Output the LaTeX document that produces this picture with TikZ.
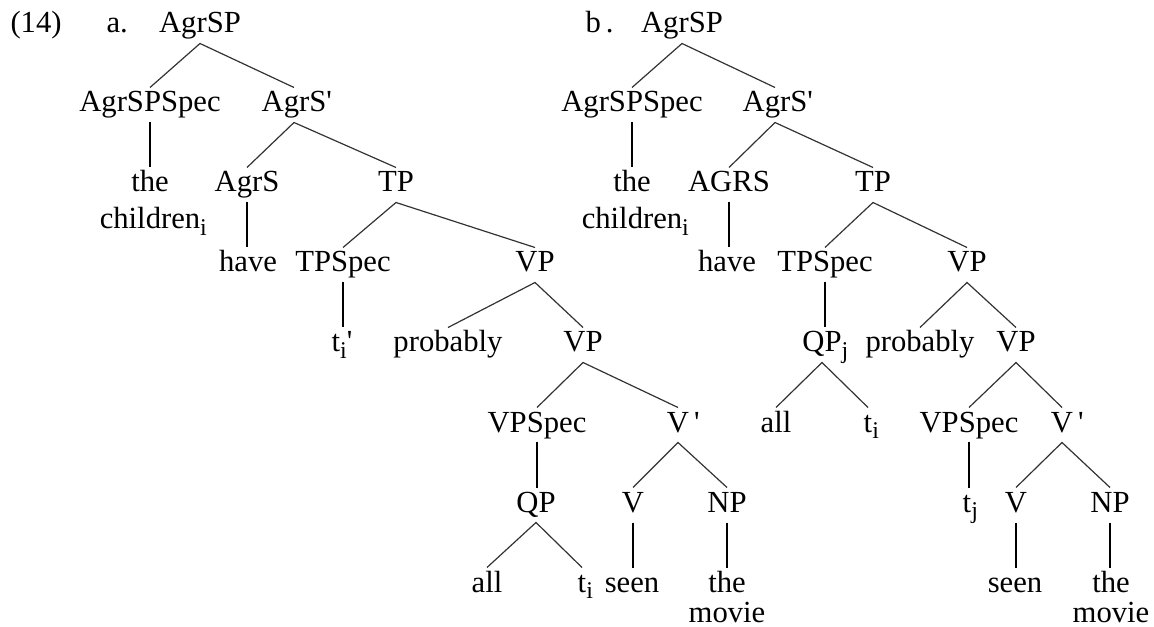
\documentclass[tikz,border=0pt]{standalone}
\usepackage{fontspec}
\setmainfont{Liberation Serif}

\newcommand\lowidx[1]{\raisebox{-0.22em}{\fontsize{18}{18}\selectfont #1}}

\tikzset{every picture/.style={line width=0.75pt}}
\tikzset{
  cat/.style={anchor=base, inner sep=3pt, text height=15pt, text depth=4.5pt},
  lbl/.style={anchor=base west, inner sep=0pt},
  branch/.style={line width=0.9pt, black!80},
  stem/.style={line width=1.3pt}
}

\begin{document}
\begin{tikzpicture}[x=0.75pt,y=0.75pt,yscale=-1,xscale=1,font=\fontsize{23}{28}\selectfont]
		\useasboundingbox (0,0) rectangle (1154,627);
		
		%Labels
		\node[lbl] (num) at (10,33) {(14)};
		\node[lbl] (tagA) at (106,33) {a.};
		\node[lbl] (tagB) at (585,33) {b\,.};
		
		%Tree a: nodes
		\node[cat] (aAgrSP) at (200,33) {AgrSP};
		\node[cat] (aSpec) at (150,112) {AgrSPSpec};
		\node[cat] (aAgrSbar) at (294,112) {AgrS\rlap{\textquotesingle}};
		\node[cat] (athe) at (150,192) {the};
		\node[cat] (achildren) at (150,229) {children\rlap{\lowidx{i}}};
		\node[cat] (aAgrS) at (247,192) {AgrS};
		\node[cat] (aTP) at (396,192) {TP};
		\node[cat] (ahave) at (248,272) {have};
		\node[cat] (aTPSpec) at (343,272) {TPSpec};
		\node[cat] (aVP) at (535,272) {VP};
		\node[cat] (atrace) at (342,352) {t\lowidx{i}\textquotesingle};
		\node[cat] (aprob) at (448,352) {probably};
		\node[cat] (aVPlow) at (583,352) {VP};
		\node[cat] (aVPSpec) at (537,432) {VPSpec};
		\node[cat] (aVbar) at (678,432) {V\rlap{\,\textquotesingle}};
		\node[cat] (aQP) at (536,512) {QP};
		\node[cat] (aV) at (633,512) {V};
		\node[cat] (aNP) at (727,512) {NP};
		\node[cat] (aall) at (487,592) {all};
		\node[cat] (atraceQ) at (582,592) {t\rlap{\lowidx{i}}};
		\node[cat] (aseen) at (632,592) {seen};
		\node[cat] (athemov) at (727,592) {the};
		\node[cat] (amovie) at (727,622) {movie};
		
		%Tree b: nodes
		\node[cat] (bAgrSP) at (682,33) {AgrSP};
		\node[cat] (bSpec) at (632,112) {AgrSPSpec};
		\node[cat] (bAgrSbar) at (775,112) {AgrS\rlap{\textquotesingle}};
		\node[cat] (bthe) at (632,192) {the};
		\node[cat] (bchildren) at (632,229) {children\rlap{\lowidx{i}}};
		\node[cat] (bAGRS) at (729,192) {AGRS};
		\node[cat] (bTP) at (873,192) {TP};
		\node[cat] (bhave) at (727,272) {have};
		\node[cat] (bTPSpec) at (825,272) {TPSpec};
		\node[cat] (bVP) at (967,272) {VP};
		\node[cat] (bQP) at (822,352) {QP\rlap{\lowidx{j}}};
		\node[cat] (bprob) at (920,352) {probably};
		\node[cat] (bVPlow) at (1016,352) {VP};
		\node[cat] (ball) at (776,432) {all};
		\node[cat] (btrace) at (868,432) {t\rlap{\lowidx{i}}};
		\node[cat] (bVPSpec) at (969,432) {VPSpec};
		\node[cat] (bVbar) at (1062,432) {V\rlap{\,\textquotesingle}};
		\node[cat] (btraceV) at (967,512) {t\rlap{\lowidx{j}}};
		\node[cat] (bV) at (1016,512) {V};
		\node[cat] (bNP) at (1110,512) {NP};
		\node[cat] (bseen) at (1015,592) {seen};
		\node[cat] (bthemov) at (1111,592) {the};
		\node[cat] (bmovie) at (1111,622) {movie};
		
		%Tree a: branches
		\draw[branch] (aSpec.north) -- (aAgrSP.south) -- (aAgrSbar.north);
		\draw[branch] (aAgrS.north) -- (aAgrSbar.south) -- (aTP.north);
		\draw[branch] (aTPSpec.north) -- (aTP.south) -- (aVP.north);
		\draw[branch] (aprob.north) -- (aVP.south) -- (aVPlow.north);
		\draw[branch] (aVPSpec.north) -- (aVPlow.south) -- (aVbar.north);
		\draw[branch] (aV.north) -- (aVbar.south) -- (aNP.north);
		\draw[branch] (aall.north) -- (aQP.south) -- (atraceQ.north);
		\draw[stem] (aSpec.south) -- (aSpec.south |- athe.north);
		\draw[stem] (aAgrS.south) -- (aAgrS.south |- ahave.north);
		\draw[stem] (aTPSpec.south) -- (aTPSpec.south |- atrace.north);
		\draw[stem] (aVPSpec.south) -- (aVPSpec.south |- aQP.north);
		\draw[stem] (aV.south) -- (aV.south |- aseen.north);
		\draw[stem] (aNP.south) -- (aNP.south |- athemov.north);
		
		%Tree b: branches
		\draw[branch] (bSpec.north) -- (bAgrSP.south) -- (bAgrSbar.north);
		\draw[branch] (bAGRS.north) -- (bAgrSbar.south) -- (bTP.north);
		\draw[branch] (bTPSpec.north) -- (bTP.south) -- (bVP.north);
		\draw[branch] (bprob.north) -- (bVP.south) -- (bVPlow.north);
		\draw[branch] (ball.north) -- (bQP.south) -- (btrace.north);
		\draw[branch] (bVPSpec.north) -- (bVPlow.south) -- (bVbar.north);
		\draw[branch] (bV.north) -- (bVbar.south) -- (bNP.north);
		\draw[stem] (bSpec.south) -- (bSpec.south |- bthe.north);
		\draw[stem] (bAGRS.south) -- (bAGRS.south |- bhave.north);
		\draw[stem] (bTPSpec.south) -- (bTPSpec.south |- bQP.north);
		\draw[stem] (bVPSpec.south) -- (bVPSpec.south |- btraceV.north);
		\draw[stem] (bV.south) -- (bV.south |- bseen.north);
		\draw[stem] (bNP.south) -- (bNP.south |- bthemov.north);
		
	\end{tikzpicture}
\end{document}
